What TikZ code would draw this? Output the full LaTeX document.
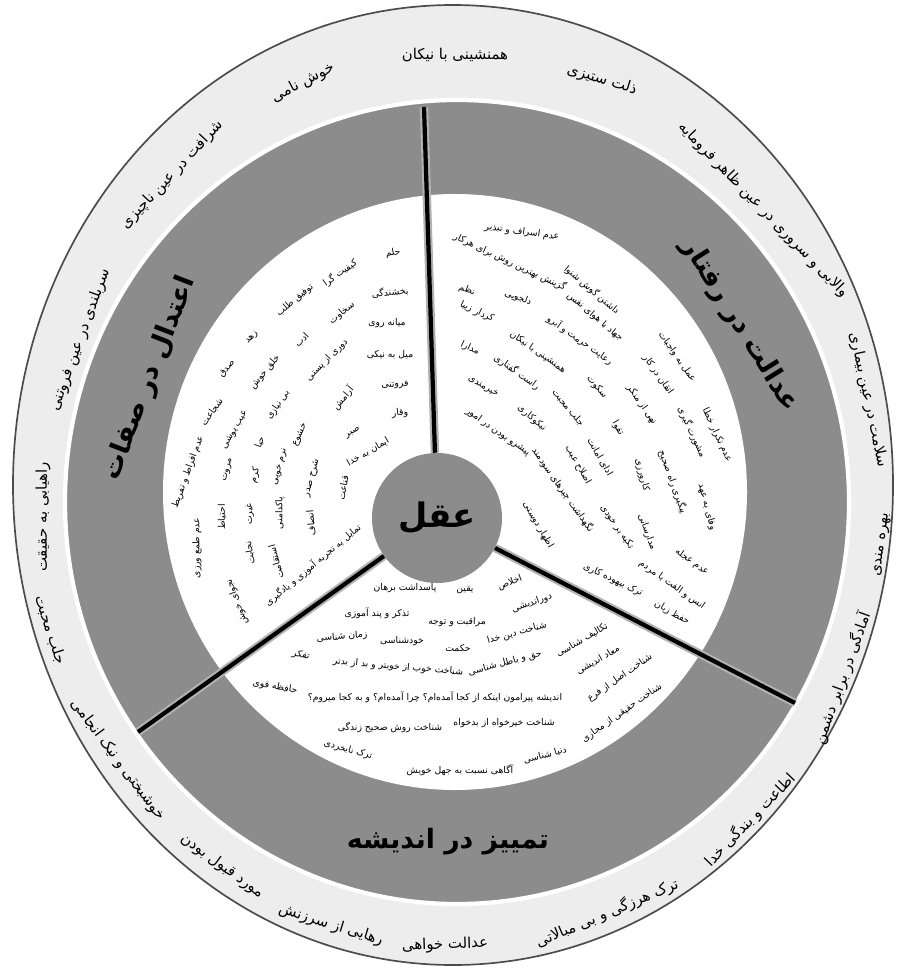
\documentclass[tikz,border=0pt]{standalone}
\usepackage{fontspec}
\newfontfamily\fa[Script=Arabic]{DejaVu Sans}
\TeXXeTstate=1

\begin{document}
\begin{tikzpicture}[x=0.025cm, y=-0.025cm,
    word/.style={font=\fa\fontsize{6.6}{7}\selectfont, inner sep=0.5pt},
    ringword/.style={font=\fa\fontsize{10.6}{12}\selectfont, inner sep=1pt},
    title/.style={font=\fa\bfseries\fontsize{19}{22}\selectfont, inner sep=1pt},
    spoke/.style={line width=3pt, preaction={draw=black!30, line width=6pt}}]

    \useasboundingbox (0,0) rectangle (902,970);

    % rings
    \draw[black!70, line width=1.2pt, fill=black!7] (453,485) ellipse [x radius=440, y radius=480];
    \draw[white, line width=3pt, fill=black!45] (457,502) ellipse [x radius=392, y radius=402];
    \fill[white] (455,492) ellipse [x radius=292, y radius=298];

    % center and spokes
    \node[circle, fill=black!45, minimum size=3.25cm, inner sep=0pt,
          font=\fa\bfseries\fontsize{24}{26}\selectfont] (aql) at (437,518) {\beginR عقل\endR};
    \coordinate (top) at (424,107);
    \coordinate (rgt) at (795,703);
    \coordinate (lft) at (138,732);
    \draw[spoke] (aql) -- (top);
    \draw[spoke] (aql) -- (rgt);
    \draw[spoke] (aql) -- (lft);

    % titles
    \node[title, rotate=69] (sifat) at (150,378) {\beginR اعتدال در صفات\endR};
    \node[title, rotate=-58] (raftar) at (740,325) {\beginR عدالت در رفتار\endR};
    \node[title] (andishe) at (448,842) {\beginR تمییز در اندیشه\endR};

    % outer ring
    \node[ringword] (o1) at (455,55) {\beginR همنشینی با نیکان\endR};
    \node[ringword, rotate=-17] (o2) at (602,80) {\beginR ذلت ستیزی\endR};
    \node[ringword, rotate=-46] (o3) at (763,210) {\beginR والایی و سروری در عین ظاهر فرومایه\endR};
    \node[ringword, rotate=-78] (o4) at (868,400) {\beginR سلامت در عین بیماری\endR};
    \node[ringword, rotate=82] (o5) at (882,545) {\beginR بهره مندی\endR};
    \node[ringword, rotate=70] (o6) at (842,678) {\beginR آمادگی در برابر دشمن\endR};
    \node[ringword, rotate=46] (o7) at (750,820) {\beginR اطاعت و بندگی خدا\endR};
    \node[ringword, rotate=23] (o8) at (607,913) {\beginR ترک هرزگی و بی مبالاتی\endR};
    \node[ringword, rotate=2] (o9) at (445,945) {\beginR عدالت خواهی\endR};
    \node[ringword, rotate=-17] (o10) at (331,925) {\beginR رهایی از سرزنش\endR};
    \node[ringword, rotate=-36] (o11) at (222,866) {\beginR مورد قبول بودن\endR};
    \node[ringword, rotate=-53] (o12) at (118,760) {\beginR خوشبختی و نیک انجامی\endR};
    \node[ringword, rotate=-72] (o13) at (50,630) {\beginR جلب محبت\endR};
    \node[ringword, rotate=90] (o14) at (43,517) {\beginR راهیابی به حقیقت\endR};
    \node[ringword, rotate=70] (o15) at (80,340) {\beginR سربلندی در عین فروتنی\endR};
    \node[ringword, rotate=47] (o16) at (172,175) {\beginR شرافت در عین ناچیزی\endR};
    \node[ringword, rotate=28] (o17) at (303,83) {\beginR خوش نامی\endR};

    % left sector
    \node[word, rotate=10] (l1) at (393,253) {\beginR حلم\endR};
    \node[word, rotate=5] (l2) at (390,292) {\beginR بخشندگی\endR};
    \node[word] (l3) at (387,323) {\beginR میانه روی\endR};
    \node[word] (l4) at (390,355) {\beginR میل به نیکی\endR};
    \node[word, rotate=5] (l5) at (395,385) {\beginR فروتنی\endR};
    \node[word, rotate=5] (l6) at (400,413) {\beginR وقار\endR};
    \node[word, rotate=30] (l7) at (353,433) {\beginR صبر\endR};
    \node[word, rotate=30] (l8) at (368,452) {\beginR ایمان به خدا\endR};
    \node[word, rotate=35] (l9) at (340,273) {\beginR کیفیت گرا\endR};
    \node[word, rotate=40] (l10) at (342,313) {\beginR سخاوت\endR};
    \node[word, rotate=45] (l11) at (302,340) {\beginR ادب\endR};
    \node[word, rotate=45] (l12) at (327,360) {\beginR دوری از پستی\endR};
    \node[word, rotate=50] (l13) at (343,398) {\beginR آرامش\endR};
    \node[word, rotate=40] (l14) at (295,300) {\beginR توفیق طلب\endR};
    \node[word, rotate=45] (l15) at (252,338) {\beginR زهد\endR};
    \node[word, rotate=50] (l16) at (265,372) {\beginR خلق خوش\endR};
    \node[word, rotate=50] (l17) at (227,369) {\beginR صدق\endR};
    \node[word, rotate=55] (l18) at (278,405) {\beginR بی نیازی\endR};
    \node[word, rotate=55] (l19) at (212,412) {\beginR شجاعت\endR};
    \node[word, rotate=60] (l20) at (235,430) {\beginR عیب پوشی\endR};
    \node[word, rotate=70] (l21) at (188,472) {\beginR عدم افراط و تفریط\endR};
    \node[word, rotate=90] (l22) at (197,548) {\beginR عدم طمع ورزی\endR};
    \node[word, rotate=75] (l23) at (228,470) {\beginR مروت\endR};
    \node[word, rotate=70] (l24) at (260,442) {\beginR حیا\endR};
    \node[word, rotate=65] (l25) at (300,435) {\beginR خشوع\endR};
    \node[word, rotate=75] (l26) at (255,475) {\beginR کرم\endR};
    \node[word, rotate=75] (l27) at (280,467) {\beginR نرم خویی\endR};
    \node[word, rotate=75] (l28) at (312,478) {\beginR شرح صدر\endR};
    \node[word, rotate=80] (l29) at (343,488) {\beginR قناعت\endR};
    \node[word, rotate=90] (l30) at (222,517) {\beginR احتیاط\endR};
    \node[word, rotate=90] (l31) at (250,514) {\beginR غیرت\endR};
    \node[word, rotate=90] (l32) at (280,513) {\beginR پاکدامنی\endR};
    \node[word, rotate=95] (l33) at (311,523) {\beginR انصاف\endR};
    \node[word, rotate=100] (l34) at (250,553) {\beginR نجابت\endR};
    \node[word, rotate=105] (l35) at (276,562) {\beginR استقامت\endR};
    \node[word, rotate=40] (l36) at (313,565) {\beginR تمایل به تجربه آموزی و یادگیری\endR};
    \node[word, rotate=110] (l37) at (237,602) {\beginR نجوای خوش\endR};

    % right sector
    \node[word, rotate=-8] (r1) at (522,232) {\beginR عدم اسراف و تبذیر\endR};
    \node[word, rotate=-25] (r2) at (510,262) {\beginR گزینش بهترین روش برای هرکار\endR};
    \node[word, rotate=-20] (r3) at (467,290) {\beginR نظم\endR};
    \node[word, rotate=-20] (r4) at (518,298) {\beginR دلجویی\endR};
    \node[word, rotate=-25] (r5) at (477,312) {\beginR کردار زیبا\endR};
    \node[word, rotate=-40] (r6) at (592,290) {\beginR داشتن گوش شنوا\endR};
    \node[word, rotate=-40] (r7) at (595,317) {\beginR جهاد با هوای نفس\endR};
    \node[word, rotate=-35] (r8) at (580,340) {\beginR رعایت حرمت و آبرو\endR};
    \node[word, rotate=-35] (r9) at (538,352) {\beginR همنشینی با نیکان\endR};
    \node[word, rotate=-25] (r10) at (470,348) {\beginR مدارا\endR};
    \node[word, rotate=-35] (r11) at (517,372) {\beginR راست گفتاری\endR};
    \node[word, rotate=-30] (r12) at (483,387) {\beginR خیرمندی\endR};
    \node[word, rotate=-55] (r13) at (677,357) {\beginR عمل به واجبات\endR};
    \node[word, rotate=-55] (r14) at (658,375) {\beginR اتقان در کار\endR};
    \node[word, rotate=-50] (r15) at (597,387) {\beginR سکوت\endR};
    \node[word, rotate=-55] (r16) at (642,405) {\beginR نهی از منکر\endR};
    \node[word, rotate=-50] (r17) at (568,408) {\beginR جلب محبت\endR};
    \node[word, rotate=-40] (r18) at (532,418) {\beginR نیکوکاری\endR};
    \node[word, rotate=-35] (r19) at (498,432) {\beginR پیشرو بودن در امور\endR};
    \node[word, rotate=-60] (r20) at (618,428) {\beginR تقوا\endR};
    \node[word, rotate=-65] (r21) at (717,435) {\beginR عدم تکرار خطا\endR};
    \node[word, rotate=-65] (r22) at (692,432) {\beginR مشورت گیری\endR};
    \node[word, rotate=-70] (r23) at (673,482) {\beginR پیگیری راه صحیح\endR};
    \node[word, rotate=-75] (r24) at (707,507) {\beginR وفای به عهد\endR};
    \node[word, rotate=-75] (r25) at (642,475) {\beginR کارورزی\endR};
    \node[word, rotate=-60] (r26) at (600,457) {\beginR ادای امانت\endR};
    \node[word, rotate=-60] (r27) at (578,465) {\beginR اصلاح عیب\endR};
    \node[word, rotate=-55] (r28) at (563,490) {\beginR نگهداشت چیزهای سودمند\endR};
    \node[word, rotate=-60] (r29) at (538,525) {\beginR اظهار دوستی\endR};
    \node[word, rotate=-55] (r30) at (617,527) {\beginR تکیه بر خودی\endR};
    \node[word, rotate=-70] (r31) at (647,532) {\beginR مدارسانی\endR};
    \node[word, rotate=-35] (r32) at (692,562) {\beginR عدم عجله\endR};
    \node[word, rotate=-35] (r33) at (672,585) {\beginR انس و الفت با مردم\endR};
    \node[word, rotate=-25] (r34) at (613,580) {\beginR ترک بیهوده کاری\endR};
    \node[word, rotate=-30] (r35) at (672,613) {\beginR حفظ زبان\endR};

    % bottom sector
    \node[word, rotate=20] (b1) at (510,583) {\beginR اخلاص\endR};
    \node[word] (b2) at (465,590) {\beginR یقین\endR};
    \node[word] (b3) at (405,588) {\beginR پاسداشت برهان\endR};
    \node[word, rotate=20] (b4) at (532,603) {\beginR دوراندیشی\endR};
    \node[word] (b5) at (377,613) {\beginR تذکر و پند آموزی\endR};
    \node[word] (b6) at (457,622) {\beginR مراقبت و توجه\endR};
    \node[word, rotate=15] (b7) at (517,633) {\beginR شناخت دین خدا\endR};
    \node[word, rotate=30] (b8) at (582,640) {\beginR تکالیف شناسی\endR};
    \node[word, rotate=5] (b9) at (342,637) {\beginR زمان شناسی\endR};
    \node[word] (b10) at (402,641) {\beginR خودشناسی\endR};
    \node[word] (b11) at (458,648) {\beginR حکمت\endR};
    \node[word, rotate=15] (b12) at (505,663) {\beginR حق و باطل شناسی\endR};
    \node[word, rotate=30] (b13) at (598,660) {\beginR معاد اندیشی\endR};
    \node[word, rotate=-15] (b14) at (301,655) {\beginR تفکر\endR};
    \node[word, rotate=-5] (b15) at (398,667) {\beginR شناخت خوب از خوبتر و بد از بدتر\endR};
    \node[word, rotate=-10] (b16) at (275,687) {\beginR حافظه قوی\endR};
    \node[word, rotate=35] (b17) at (620,678) {\beginR شناخت اصل از فرع\endR};
    \node[word] (b18) at (435,697) {\beginR اندیشه پیرامون اینکه از کجا آمده‌ام؟ چرا آمده‌ام؟ و به کجا میروم؟\endR};
    \node[word, rotate=35] (b19) at (622,713) {\beginR شناخت حقیقی از مجازی\endR};
    \node[word] (b20) at (504,723) {\beginR شناخت خیرخواه از بدخواه\endR};
    \node[word] (b21) at (390,727) {\beginR شناخت روش صحیح زندگی\endR};
    \node[word, rotate=-15] (b22) at (348,750) {\beginR ترک نابخردی\endR};
    \node[word, rotate=15] (b23) at (545,755) {\beginR دنیا شناسی\endR};
    \node[word] (b24) at (460,770) {\beginR آگاهی نسبت به جهل خویش\endR};

\end{tikzpicture}
\end{document}
